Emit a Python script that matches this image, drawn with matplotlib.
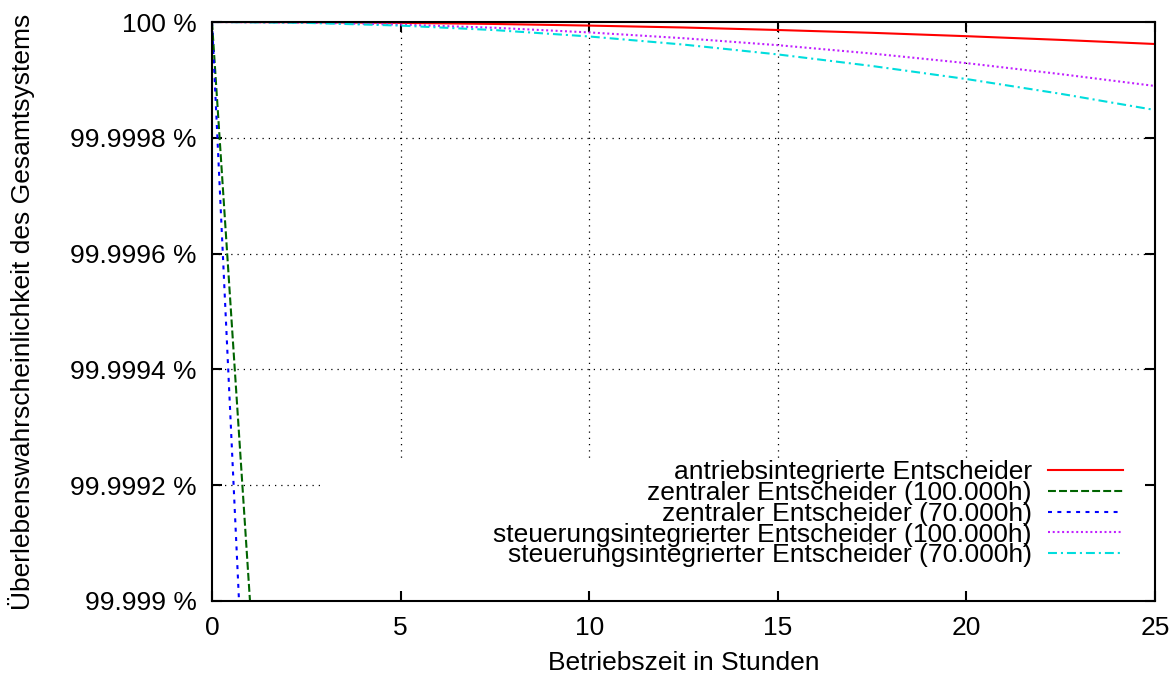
import matplotlib
matplotlib.use('Agg')

import matplotlib.pyplot as plt
from matplotlib.patches import Rectangle
from matplotlib.ticker import FuncFormatter

plt.rcParams['font.family'] = ['Liberation Sans', 'DejaVu Sans']

# Betriebszeit in Stunden
t_lang = [0, 2.5, 5, 7.5, 10, 12.5, 15, 17.5, 20, 22.5, 25]
t_kurz = [0, 0.5, 1.0, 1.5]

# Überlebenswahrscheinlichkeit in %
antrieb = [100.0, 99.9999996, 99.9999985, 99.9999966, 99.9999938, 99.9999905,
           99.9999862, 99.9999813, 99.9999755, 99.9999691, 99.9999620]
zentral_100k = [100.0, 99.999503, 99.999007, 99.998510]
zentral_70k = [100.0, 99.999302, 99.998603, 99.997905]
steuer_100k = [100.0, 99.9999989, 99.9999955, 99.9999900, 99.9999820, 99.9999720,
               99.9999600, 99.9999455, 99.9999290, 99.9999100, 99.9998895]
steuer_70k = [100.0, 99.9999985, 99.9999938, 99.9999860, 99.9999750, 99.9999610,
              99.9999440, 99.9999240, 99.9999015, 99.9998760, 99.9998480]

labels = [
    'antriebsintegrierte Entscheider',
    'zentraler Entscheider (100.000h)',
    'zentraler Entscheider (70.000h)',
    'steuerungsintegrierter Entscheider (100.000h)',
    'steuerungsintegrierter Entscheider (70.000h)',
]

xticks = [0, 5, 10, 15, 20, 25]
yticks = [99.999, 99.9992, 99.9994, 99.9996, 99.9998, 100.0]

fs = 19

fig = plt.figure(figsize=(11.76, 6.79), dpi=100)
ax = fig.add_axes([212 / 1176, 1 - 601 / 679, 943 / 1176, 579 / 679])

# Gitter (gepunktet), von der Legende verdeckt
for x in xticks[1:-1]:
    ax.axvline(x, color='black', lw=0.9, ls=(0, (1, 4)), zorder=1)
for y in yticks[1:-1]:
    ax.axhline(y, color='black', lw=0.9, ls=(0, (1, 4)), zorder=1)
ax.add_patch(Rectangle((0.1166, 0), 0.9, 0.247, transform=ax.transAxes,
                       facecolor='white', edgecolor='none', zorder=1.5))

lw = 1.5
ax.plot(t_lang, antrieb, color='#ff0000', lw=lw, label=labels[0], zorder=2)
ax.plot(t_kurz, zentral_100k, color='#006400', lw=lw, ls=(0, (3.8, 1.5)),
        label=labels[1], zorder=2)
ax.plot(t_kurz, zentral_70k, color='#0000ff', lw=lw, ls=(0, (1.9, 2.6)),
        label=labels[2], zorder=2)
ax.plot(t_lang, steuer_100k, color='#c020ff', lw=lw, ls=(0, (0.96, 1.3)),
        label=labels[3], zorder=2)
ax.plot(t_lang, steuer_70k, color='#00dddd', lw=lw, ls=(0, (4.3, 1.9, 1, 1.9)),
        label=labels[4], zorder=2)

ax.set_xlim(0, 25)
ax.set_ylim(99.999, 100.0)
ax.set_xticks(xticks)
ax.set_yticks(yticks)
ax.yaxis.set_major_formatter(FuncFormatter(lambda v, p: f'{v:g} %'))
ax.tick_params(direction='in', length=7, width=1.5, labelsize=fs, pad=11,
               top=True, right=True)
for s in ax.spines.values():
    s.set_linewidth(1.5)

ax.set_xlabel('Betriebszeit in Stunden', fontsize=fs, labelpad=8)
ax.set_ylabel('Überlebenswahrscheinlichkeit des Gesamtsystems', fontsize=fs,
              labelpad=25)

leg = ax.legend(loc='lower right', bbox_to_anchor=(0.966, 0.058), frameon=False,
                markerfirst=False, fontsize=fs, handlelength=2.85,
                handletextpad=0.6, labelspacing=-0.12, borderpad=0,
                borderaxespad=0)
leg.set_zorder(5)

fig.savefig('out.png', dpi=100)
plt.close(fig)
